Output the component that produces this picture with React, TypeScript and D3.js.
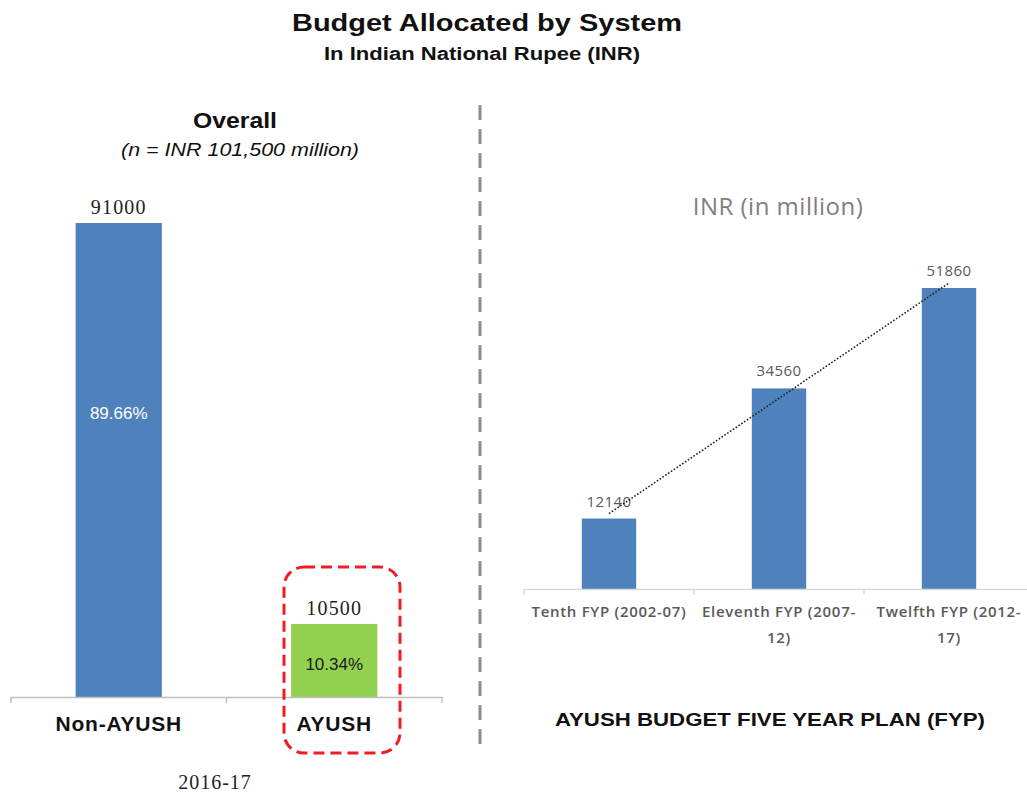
import { useRef, useEffect } from "react";
import * as d3 from "d3";

// Left chart: overall budget 2016-17
const systems: string[] = ["Non-AYUSH", "AYUSH"];
const systemValues: number[] = [91000, 10500];
const systemShares: string[] = ["89.66%", "10.34%"];

// Right chart: AYUSH budget by five year plan
const plans: string[] = [
  "Tenth FYP (2002-07)",
  "Eleventh FYP (2007-12)",
  "Twelfth FYP (2012-17)",
];
const planValues: number[] = [12140, 34560, 51860];

// styles
const systemColors = ["#4f81bd", "#92d050"];
const shareColors = ["#ffffff", "#1a1a1a"];
const shareFrac = [0.4, 0.55];

const W = 1027;
const H = 793;
const SANS = "Liberation Sans, Arial, sans-serif";
const SERIF = "Liberation Serif, DejaVu Serif, serif";
const CAL = "Open Sans, Noto Sans, sans-serif";

const App = () => {
  const svgRef = useRef(null);

  useEffect(() => {
    if (!svgRef.current) return;
    const svg = d3.select(svgRef.current);
    svg.selectAll("*").remove();

    //  Titles
    svg
      .append("text")
      .attr("x", 487)
      .attr("y", 31)
      .attr("text-anchor", "middle")
      .attr("font-family", SANS)
      .attr("font-weight", "bold")
      .attr("font-size", 24)
      .attr("fill", "#111")
      .attr("textLength", 390)
      .attr("lengthAdjust", "spacingAndGlyphs")
      .text("Budget Allocated by System");
    svg
      .append("text")
      .attr("x", 482)
      .attr("y", 60)
      .attr("text-anchor", "middle")
      .attr("font-family", SANS)
      .attr("font-weight", "bold")
      .attr("font-size", 18)
      .attr("fill", "#111")
      .attr("textLength", 316)
      .attr("lengthAdjust", "spacingAndGlyphs")
      .text("In Indian National Rupee (INR)");

    //  Divider
    svg
      .append("line")
      .attr("x1", 480)
      .attr("x2", 480)
      .attr("y1", 105)
      .attr("y2", 752)
      .attr("stroke", "#8c8c8c")
      .attr("stroke-width", 3)
      .attr("stroke-dasharray", "15 9");

    //  LEFT: overall
    const left = svg.append("g");
    left
      .append("text")
      .attr("x", 235)
      .attr("y", 128)
      .attr("text-anchor", "middle")
      .attr("font-family", SANS)
      .attr("font-weight", "bold")
      .attr("font-size", 22)
      .attr("fill", "#111")
      .attr("textLength", 84)
      .attr("lengthAdjust", "spacingAndGlyphs")
      .text("Overall");
    left
      .append("text")
      .attr("x", 240)
      .attr("y", 156)
      .attr("text-anchor", "middle")
      .attr("font-family", SANS)
      .attr("font-style", "italic")
      .attr("font-size", 19)
      .attr("fill", "#111")
      .attr("textLength", 238)
      .attr("lengthAdjust", "spacingAndGlyphs")
      .text("(n = INR 101,500 million)");

    const x1 = d3
      .scaleBand()
      .domain(systems)
      .range([11, 442])
      .paddingInner(0.6)
      .paddingOuter(0.3);
    const y1 = d3.scaleLinear().domain([-4160, 91000]).range([697, 223]);
    const base1 = 697;

    left
      .selectAll("rect.sys")
      .data(systems)
      .join("rect")
      .attr("class", "sys")
      .attr("x", (d) => x1(d)!)
      .attr("width", x1.bandwidth())
      .attr("y", (_, i) => y1(systemValues[i]))
      .attr("height", (_, i) => base1 - y1(systemValues[i]))
      .attr("fill", (_, i) => systemColors[i]);

    // axis
    left
      .append("line")
      .attr("x1", 11)
      .attr("x2", 442)
      .attr("y1", base1 + 0.5)
      .attr("y2", base1 + 0.5)
      .attr("stroke", "#bfbfbf")
      .attr("stroke-width", 1.5);
    const edges1 = [11, ...systems.map((d) => x1(d)! + x1.bandwidth() / 2 + x1.step() / 2)];
    left
      .selectAll("line.tick")
      .data(edges1)
      .join("line")
      .attr("class", "tick")
      .attr("x1", (d) => d)
      .attr("x2", (d) => d)
      .attr("y1", base1)
      .attr("y2", base1 + 6)
      .attr("stroke", "#bfbfbf")
      .attr("stroke-width", 1.5);

    left
      .selectAll("text.val")
      .data(systems)
      .join("text")
      .attr("class", "val")
      .attr("x", (d) => x1(d)! + x1.bandwidth() / 2)
      .attr("y", (_, i) => y1(systemValues[i]) - 9)
      .attr("text-anchor", "middle")
      .attr("font-family", SERIF)
      .attr("font-size", 20)
      .attr("letter-spacing", 1.2)
      .attr("fill", "#222")
      .text((_, i) => String(systemValues[i]));

    left
      .selectAll("text.share")
      .data(systems)
      .join("text")
      .attr("class", "share")
      .attr("x", (d) => x1(d)! + x1.bandwidth() / 2)
      .attr(
        "y",
        (_, i) =>
          y1(systemValues[i]) + (base1 - y1(systemValues[i])) * shareFrac[i] + 6
      )
      .attr("text-anchor", "middle")
      .attr("font-family", SANS)
      .attr("font-size", 17)
      .attr("fill", (_, i) => shareColors[i])
      .text((_, i) => systemShares[i]);

    left
      .selectAll("text.cat")
      .data(systems)
      .join("text")
      .attr("class", "cat")
      .attr("x", (d) => x1(d)! + x1.bandwidth() / 2)
      .attr("y", 731)
      .attr("text-anchor", "middle")
      .attr("font-family", SANS)
      .attr("font-weight", "bold")
      .attr("font-size", 21)
      .attr("letter-spacing", 0.8)
      .attr("fill", "#111")
      .text((d) => d);

    left
      .append("text")
      .attr("x", 215)
      .attr("y", 789)
      .attr("text-anchor", "middle")
      .attr("font-family", SERIF)
      .attr("font-size", 20)
      .attr("letter-spacing", 1)
      .attr("fill", "#222")
      .text("2016-17");

    // highlight box around AYUSH
    left
      .append("rect")
      .attr("x", 284)
      .attr("y", 567)
      .attr("width", 116)
      .attr("height", 186)
      .attr("rx", 20)
      .attr("fill", "none")
      .attr("stroke", "#ee1c24")
      .attr("stroke-width", 3)
      .attr("stroke-dasharray", "11 6");

    //  RIGHT: five year plans
    const right = svg.append("g");
    right
      .append("text")
      .attr("x", 778)
      .attr("y", 215)
      .attr("text-anchor", "middle")
      .attr("font-family", CAL)
      .attr("font-size", 24)
      .attr("letter-spacing", 0.5)
      .attr("fill", "#808080")
      .text("INR (in million)");

    const x2 = d3
      .scaleBand()
      .domain(plans)
      .range([524, 1034])
      .paddingInner(0.68)
      .paddingOuter(0.34);
    const y2 = d3.scaleLinear().domain([0, 51860]).range([589, 288]);
    const base2 = 589;

    right
      .selectAll("rect.plan")
      .data(plans)
      .join("rect")
      .attr("class", "plan")
      .attr("x", (d) => x2(d)!)
      .attr("width", x2.bandwidth())
      .attr("y", (_, i) => y2(planValues[i]))
      .attr("height", (_, i) => base2 - y2(planValues[i]))
      .attr("fill", "#4f81bd");

    right
      .append("line")
      .attr("x1", 524)
      .attr("x2", W)
      .attr("y1", base2 + 0.5)
      .attr("y2", base2 + 0.5)
      .attr("stroke", "#d9d9d9")
      .attr("stroke-width", 1.5);
    const edges2 = [524, ...plans.map((d) => x2(d)! + x2.bandwidth() / 2 + x2.step() / 2)];
    right
      .selectAll("line.tick")
      .data(edges2)
      .join("line")
      .attr("class", "tick")
      .attr("x1", (d) => d)
      .attr("x2", (d) => d)
      .attr("y1", base2)
      .attr("y2", base2 + 6)
      .attr("stroke", "#d9d9d9")
      .attr("stroke-width", 1.5);

    right
      .selectAll("text.val")
      .data(plans)
      .join("text")
      .attr("class", "val")
      .attr("x", (d) => x2(d)! + x2.bandwidth() / 2)
      .attr("y", (_, i) => y2(planValues[i]) - 12)
      .attr("text-anchor", "middle")
      .attr("font-family", CAL)
      .attr("font-size", 15)
      .attr("letter-spacing", 0.4)
      .attr("fill", "#595959")
      .text((_, i) => String(planValues[i]));

    // linear trendline (least squares over plan index)
    const idx = plans.map((_, i) => i + 1);
    const mx = d3.mean(idx)!;
    const my = d3.mean(planValues)!;
    const slope =
      d3.sum(idx.map((t, i) => (t - mx) * (planValues[i] - my))) /
      d3.sum(idx.map((t) => (t - mx) * (t - mx)));
    const trend = idx.map((t) => my + slope * (t - mx));
    const trendLine = d3
      .line<number>()
      .x((_, i) => x2(plans[i])! + x2.bandwidth() / 2)
      .y((v) => y2(v));
    right
      .append("path")
      .attr("d", trendLine(trend) as string)
      .attr("fill", "none")
      .attr("stroke", "#222")
      .attr("stroke-width", 1.6)
      .attr("stroke-dasharray", "1.6 1.8");

    // category labels, wrapped to the band
    const cats = right
      .selectAll("text.cat")
      .data(plans)
      .join("text")
      .attr("class", "cat")
      .attr("x", (d) => x2(d)! + x2.bandwidth() / 2)
      .attr("y", 617)
      .attr("text-anchor", "middle")
      .attr("font-family", CAL)
      .attr("font-weight", 600)
      .attr("font-size", 15)
      .attr("letter-spacing", 0.7)
      .attr("fill", "#595959");
    cats.each(function (d) {
      const t = d3.select(this);
      const cx = +t.attr("x");
      const maxW = x2.step() - 4;
      const words = d.split(/(?<=-)|\s+/);
      let lineStr = "";
      let tspan = t.append("tspan").attr("x", cx).attr("dy", 0);
      words.forEach((w) => {
        const joiner = lineStr === "" || lineStr.endsWith("-") ? "" : " ";
        const test = lineStr + joiner + w;
        tspan.text(test);
        if (
          (tspan.node() as SVGTSpanElement).getComputedTextLength() > maxW &&
          lineStr !== ""
        ) {
          tspan.text(lineStr);
          lineStr = w;
          tspan = t.append("tspan").attr("x", cx).attr("dy", 26).text(w);
        } else {
          lineStr = test;
        }
      });
    });

    right
      .append("text")
      .attr("x", 770)
      .attr("y", 726)
      .attr("text-anchor", "middle")
      .attr("font-family", SANS)
      .attr("font-weight", "bold")
      .attr("font-size", 19)
      .attr("fill", "#111")
      .attr("textLength", 430)
      .attr("lengthAdjust", "spacingAndGlyphs")
      .text("AYUSH BUDGET FIVE YEAR PLAN (FYP)");
  }, [svgRef]);

  return (
    <svg
      ref={svgRef}
      width={W}
      height={H}
      style={{ position: "absolute", left: 0, top: 0, background: "#fff" }}
    />
  );
};

export default App;
